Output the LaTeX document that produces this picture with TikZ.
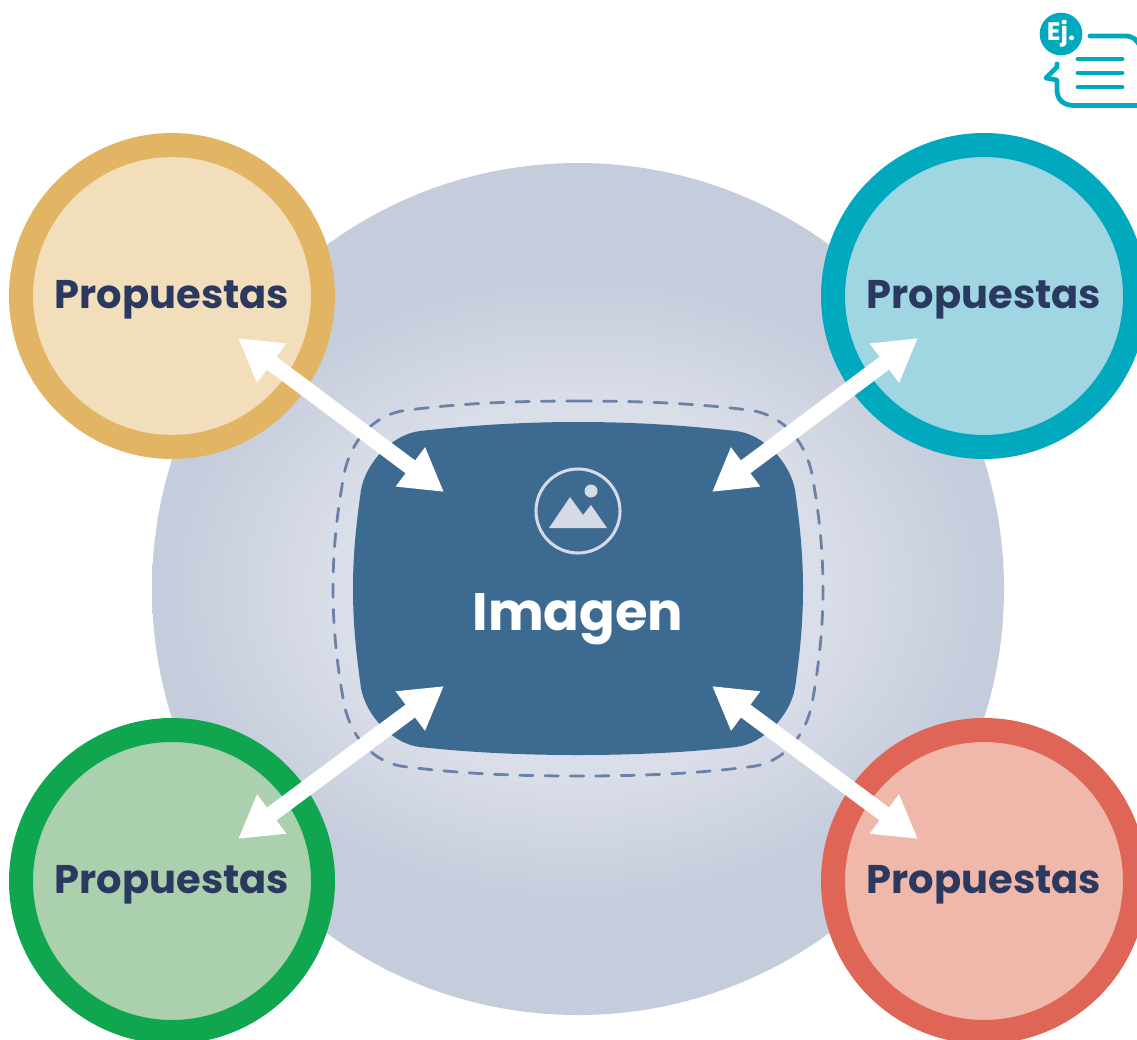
\documentclass[tikz,border=0pt]{standalone}
\usepackage{fontspec}
\setmainfont{Poppins}
\usetikzlibrary{arrows.meta}
\definecolor{fondoA}{HTML}{DADEE9}
\definecolor{fondoB}{HTML}{C5CCDB}
\definecolor{azul}{HTML}{3D6A90}
\definecolor{guion}{HTML}{6A82A8}
\definecolor{tinta}{HTML}{2B3860}
\definecolor{icono}{HTML}{D5DAE6}
\definecolor{teal}{HTML}{00A9BD}
\definecolor{bordeA}{HTML}{E1B563}
\definecolor{rellenoA}{HTML}{F2DEBB}
\definecolor{rellenoB}{HTML}{A0D6E1}
\definecolor{bordeC}{HTML}{10A64F}
\definecolor{rellenoC}{HTML}{AAD0AD}
\definecolor{bordeD}{HTML}{DF6556}
\definecolor{rellenoD}{HTML}{F0B8AA}
\pgfdeclareradialshading{halo}{\pgfpointorigin}{color(0bp)=(fondoA); color(11bp)=(fondoA); color(18.5bp)=(fondoB); color(25bp)=(fondoB); color(50bp)=(fondoB)}
\tikzset{
	propuesta/.style={circle,draw,line width=18pt,minimum size=226.5pt,inner sep=0pt,outer sep=0pt,text=tinta},
	titulo/.style={font=\fontsize{30}{32}\selectfont\bfseries},
	flecha/.style={draw=white,line width=12pt,{Triangle[length=31.5pt,width=34.5pt,fill=white]}-{Triangle[length=31.5pt,width=34.5pt,fill=white]}},
	trazo/.style={draw=teal,line width=3.6pt,line cap=round,line join=round}
}
\begin{document}
\begin{tikzpicture}[x=0.75pt,y=-0.75pt]
	\useasboundingbox (0,0) rectangle (1137,1039);
	
	\begin{scope}
		\clip (578,589) circle (426);
		\shade[shading=halo] (578,589) ellipse (554 and 426);
	\end{scope}
	
	% marco punteado e imagen central
	\draw[guion,line width=2.1pt,dash pattern=on 10pt off 9pt,line cap=round] (578,401) .. controls (650,401) and (700,404) .. (748,410) .. controls (785,414) and (808,445) .. (813,480) .. controls (820,520) and (823,555) .. (823,589) .. controls (823,623) and (820,658) .. (813,698) .. controls (808,733) and (785,764) .. (748,767) .. controls (700,773) and (650,776) .. (578,776) .. controls (506,776) and (456,773) .. (408,767) .. controls (371,764) and (348,733) .. (343,698) .. controls (336,658) and (333,623) .. (333,589) .. controls (333,555) and (336,520) .. (343,480) .. controls (348,445) and (371,414) .. (408,410) .. controls (456,404) and (506,401) .. (578,401) -- cycle;
	\fill[azul] (578,422) .. controls (640,422) and (690,426) .. (736,431) .. controls (763,434) and (790,462) .. (795,490) .. controls (800,525) and (803,555) .. (803,589) .. controls (803,623) and (800,653) .. (795,688) .. controls (790,716) and (763,744) .. (736,747) .. controls (690,752) and (640,755) .. (578,755) .. controls (516,755) and (466,752) .. (420,747) .. controls (393,744) and (366,716) .. (361,688) .. controls (356,653) and (353,623) .. (353,589) .. controls (353,555) and (356,525) .. (361,490) .. controls (366,462) and (393,434) .. (420,431) .. controls (466,426) and (516,422) .. (578,422) -- cycle;
	
	% icono de imagen
	\draw[icono,line width=2.3pt] (578,511) circle (42);
	\fill[icono] (591,491) circle (6.5);
	\fill[icono] (549,528) -- (570,497) -- (583,515) -- (591,505) -- (607,528) -- cycle;
	\node[font=\fontsize{39.5}{41}\selectfont\bfseries,text=white] (imagen) at (578,619) {Imagen};
	
	\foreach \nombre/\cx/\cy/\borde/\relleno in {propA/172/296/bordeA/rellenoA,propB/984/296/teal/rellenoB,propC/172/881/bordeC/rellenoC,propD/984/881/bordeD/rellenoD}
	{
		\node[propuesta,draw=\borde,fill=\relleno] (\nombre) at (\cx,\cy) {};
		\node[titulo,text=tinta] (t\nombre) at (\cx,\cy) [yshift=-2.6pt] {Propuestas};
	}
	
	\coordinate (a1) at (238,338);
	\coordinate (a2) at (444,492);
	\coordinate (b1) at (918,338);
	\coordinate (b2) at (712,492);
	\coordinate (c1) at (238,839);
	\coordinate (c2) at (444,686);
	\coordinate (d1) at (918,839);
	\coordinate (d2) at (712,686);
	\draw[flecha] (a1) -- (a2);
	\draw[flecha] (b1) -- (b2);
	\draw[flecha] (c1) -- (c2);
	\draw[flecha] (d1) -- (d2);
	
	% icono del ejemplo
	\node[circle,fill=teal,minimum size=32pt,inner sep=0pt,text=white,font=\fontsize{19}{19}\selectfont\bfseries] (ej) at (1061,34) {Ej.};
	\draw[trazo] (1090,36) -- (1125,36) .. controls (1133,36) and (1137,40) .. (1140,46);
	\draw[trazo] (1057,64) -- (1057,67) -- (1046,78) -- (1057,80) -- (1057,90) .. controls (1057,100) and (1064,105.5) .. (1074,105.5) -- (1140,105.5);
	\foreach \y in {59,73,87}
	{
		\draw[trazo] (1078,\y) -- (1122,\y);
	}
\end{tikzpicture}
\end{document}
